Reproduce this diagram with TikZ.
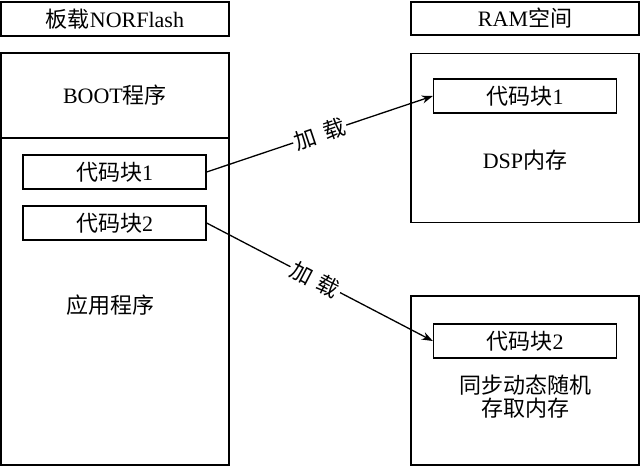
\documentclass[tikz,border=0pt]{standalone}
\usepackage{fontspec}
\setmainfont{Liberation Serif}
\newfontfamily\cjk{Noto Sans CJK SC}
\usepackage{tikz}
\usetikzlibrary{positioning,arrows.meta}
\newcommand{\zh}[1]{{\cjk #1}}

\begin{document}
\begin{tikzpicture}[x=1pt, y=-1pt,
        memtitle/.style={rectangle, draw, line width=1.3pt, minimum width=228pt,
          minimum height=34pt, inner sep=0pt, font=\fontsize{22}{26}\selectfont},
        membox/.style={rectangle, draw, line width=1.3pt, minimum width=228pt,
          inner sep=0pt},
        codeblk/.style={rectangle, draw, line width=1.3pt, minimum width=183pt,
          minimum height=34pt, inner sep=0pt, font=\fontsize{22}{26}\selectfont},
        memtext/.style={font=\fontsize{22}{23}\selectfont, align=center},
        arr/.style={-{Stealth[length=11pt, width=8pt]}, line width=1.3pt},
        loadlabel/.style={font=\fontsize{22}{26}\selectfont, fill=white,
          inner sep=2pt, sloped},
      ]
      \useasboundingbox (0,0) rectangle (640,472);

      % left side: board flash
      \node[memtitle] (flashtitle) at (115, 19) {\zh{板载}NORFlash};
      \node[membox, minimum height=412pt] (flash) at (115, 259) {};
      \node[membox, minimum height=85pt, font=\fontsize{22}{26}\selectfont]
        (boot) at (115, 95.5) {BOOT\zh{程序}};
      \node[codeblk] (blockA) at (114.5, 172) {\zh{代码块}1};
      \node[codeblk] (blockB) at (114.5, 223) {\zh{代码块}2};
      \node[memtext] (app) at (110, 305) {\zh{应用程序}};

      % right side: RAM
      \node[memtitle, minimum height=33pt] (ramtitle) at (525, 18.5) {RAM\zh{空间}};
      \node[membox, minimum height=169pt] (dsp) at (525, 138) {};
      \node[codeblk] (ramA) at (525, 96) {\zh{代码块}1};
      \node[memtext] (dsptext) at (525, 160) {DSP\zh{内存}};

      \node[membox, minimum height=169pt] (sdram) at (525, 380.5) {};
      \node[codeblk] (ramB) at (525, 341) {\zh{代码块}2};
      \node[memtext] (sdramtext) at (525, 397) {\zh{同步动态随机}\\\zh{存取内存}};

      % loading arrows
      \draw[arr] (blockA.east) -- node[loadlabel, pos=0.5] {\zh{加\hspace{0.35em}载}} (ramA.west);
      \draw[arr] (blockB.east) -- node[loadlabel, pos=0.48] {\zh{加\hspace{0.35em}载}} (ramB.west);
    \end{tikzpicture}
\end{document}
